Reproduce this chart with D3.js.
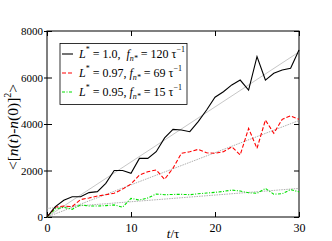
<!DOCTYPE html>
<html><head><meta charset="utf-8">
<script src="https://cdn.jsdelivr.net/npm/d3@7"></script>
<style>body{margin:0;background:#fff}svg{display:block}text{font-family:"Liberation Serif","Times New Roman",serif;fill:#000}</style>
</head><body>
<svg id="c" width="332" height="241"></svg>
<script>
const times = d3.range(0, 31);
const blackVals = [0,450,720,870,870,1050,1090,1450,2000,2000,1880,2520,2520,2810,3400,3770,3740,3670,4100,4600,5150,5390,5680,5890,5460,6900,5890,6180,6320,6400,7180];
const redVals = [0,430,470,450,750,820,900,960,1020,1200,1420,1800,1950,2020,1620,2100,2740,2810,2910,2760,2740,2810,3020,2670,3810,2950,4170,3600,4200,4350,4200];
const greenVals = [0,350,415,330,520,470,470,490,520,420,800,730,820,990,960,970,975,960,1000,1030,1060,1100,1160,1120,1040,1020,1230,980,1000,1180,1080];
const fitBlack = [[0,0],[30,7100]];
const fitRed = [[0,0],[30,4150]];
const fitGreen = [[0,370],[30,1230]];
const xTicks = [0,10,20,30];
const yTicks = [0,2000,4000,6000,8000];
const legendL = ["1.0,","0.97,","0.95,"];
const legendF = ["120","69","15"];

const svg = d3.select("#c");
const L=47, R=299, T=31, B=217;
const x = d3.scaleLinear().domain([0,30]).range([L,R]);
const y = d3.scaleLinear().domain([0,8000]).range([B,T]);

// frame
svg.append("rect").attr("x",L).attr("y",T).attr("width",R-L).attr("height",B-T)
  .attr("fill","none").attr("stroke","#000").attr("stroke-width",1);

// axes (ticks inward, mirrored)
const ax = (g, gen) => { g.call(gen); g.select(".domain").remove(); g.selectAll("line").attr("stroke","#000"); };
const xb = svg.append("g").attr("transform",`translate(0,${B})`);
ax(xb, d3.axisBottom(x).tickValues(xTicks).tickSizeInner(-5).tickSizeOuter(0).tickPadding(6).tickFormat(d3.format("d")));
xb.selectAll("text").attr("font-size",12);
const xt = svg.append("g").attr("transform",`translate(0,${T})`);
ax(xt, d3.axisTop(x).tickValues(xTicks).tickSizeInner(-5).tickSizeOuter(0).tickFormat(""));
const yl = svg.append("g").attr("transform",`translate(${L},0)`);
ax(yl, d3.axisLeft(y).tickValues(yTicks).tickSizeInner(-5).tickSizeOuter(0).tickPadding(4).tickFormat(d3.format("d")));
yl.selectAll("text").attr("font-size",11);
yl.selectAll(".tick line").clone().attr("x2",-3);
const yr = svg.append("g").attr("transform",`translate(${R},0)`);
ax(yr, d3.axisRight(y).tickValues(yTicks).tickSizeInner(-5).tickSizeOuter(0).tickFormat(""));

// fit lines
const line = d3.line().x(d=>x(d[0])).y(d=>y(d[1]));
svg.append("path").attr("d",line(fitBlack)).attr("fill","none").attr("stroke","#b8b8b8").attr("stroke-width",0.8);
svg.append("path").attr("d",line(fitRed)).attr("fill","none").attr("stroke","#999").attr("stroke-width",0.8).attr("stroke-dasharray","1.5,1");
svg.append("path").attr("d",line(fitGreen)).attr("fill","none").attr("stroke","#999").attr("stroke-width",0.8).attr("stroke-dasharray","1.5,1");

// data
const series = [
  {v:blackVals,c:"#000",d:null,w:1.1},
  {v:redVals,c:"#ff0000",d:"4,2",w:1.1},
  {v:greenVals,c:"#00e000",d:"3,1.5,1,1.5",w:1.1}
];
const dl = d3.line().x((d,i)=>x(times[i])).y(d=>y(d));
series.slice().reverse().forEach(s=>{
  svg.append("path").attr("d",dl(s.v)).attr("fill","none").attr("stroke",s.c)
    .attr("stroke-width",s.w).attr("stroke-dasharray",s.d);
});

// legend
svg.append("rect").attr("x",60).attr("y",43.5).attr("width",127).attr("height",61)
  .attr("fill","#fff").attr("stroke","#000").attr("stroke-width",0.8);
const rowsY = [54,73,92];
series.forEach((s,i)=>{
  const yy = rowsY[i];
  svg.append("line").attr("x1",62).attr("x2",73).attr("y1",yy).attr("y2",yy)
    .attr("stroke",s.c).attr("stroke-width",1.1).attr("stroke-dasharray",s.d);
  const t = svg.append("text").attr("x",79).attr("y",yy+4).attr("font-size",12);
  t.append("tspan").attr("font-style","italic").text("L");
  t.append("tspan").attr("dy",-6).attr("font-size",8).text("*");
  t.append("tspan").attr("dy",6).text(" = "+legendL[i]+(i===0?"\u2002":" "));
  t.append("tspan").attr("font-style","italic").text("f");
  t.append("tspan").attr("dy",3).attr("font-size",8).attr("font-style","italic").text("n*");
  t.append("tspan").attr("dy",-3).text(" = "+legendF[i]+" \u03c4");
  t.append("tspan").attr("dy",-6).attr("font-size",8).text("\u22121");
});

// axis labels
const xlab = svg.append("text").attr("x",173).attr("y",238).attr("text-anchor","middle").attr("font-size",13);
xlab.append("tspan").attr("font-style","italic").text("t");
xlab.append("tspan").text("/\u03c4");
const ylab = svg.append("text").attr("transform","translate(18,127) rotate(-90)").attr("text-anchor","middle").attr("font-size",15.5);
ylab.append("tspan").text("<[");
ylab.append("tspan").attr("font-style","italic").text("n");
ylab.append("tspan").text("(");
ylab.append("tspan").attr("font-style","italic").text("t");
ylab.append("tspan").text(")-");
ylab.append("tspan").attr("font-style","italic").text("n");
ylab.append("tspan").text("(0)]");
ylab.append("tspan").attr("dy",-7).attr("font-size",10).text("2");
ylab.append("tspan").attr("dy",7).text(">");
</script>
</body></html>
